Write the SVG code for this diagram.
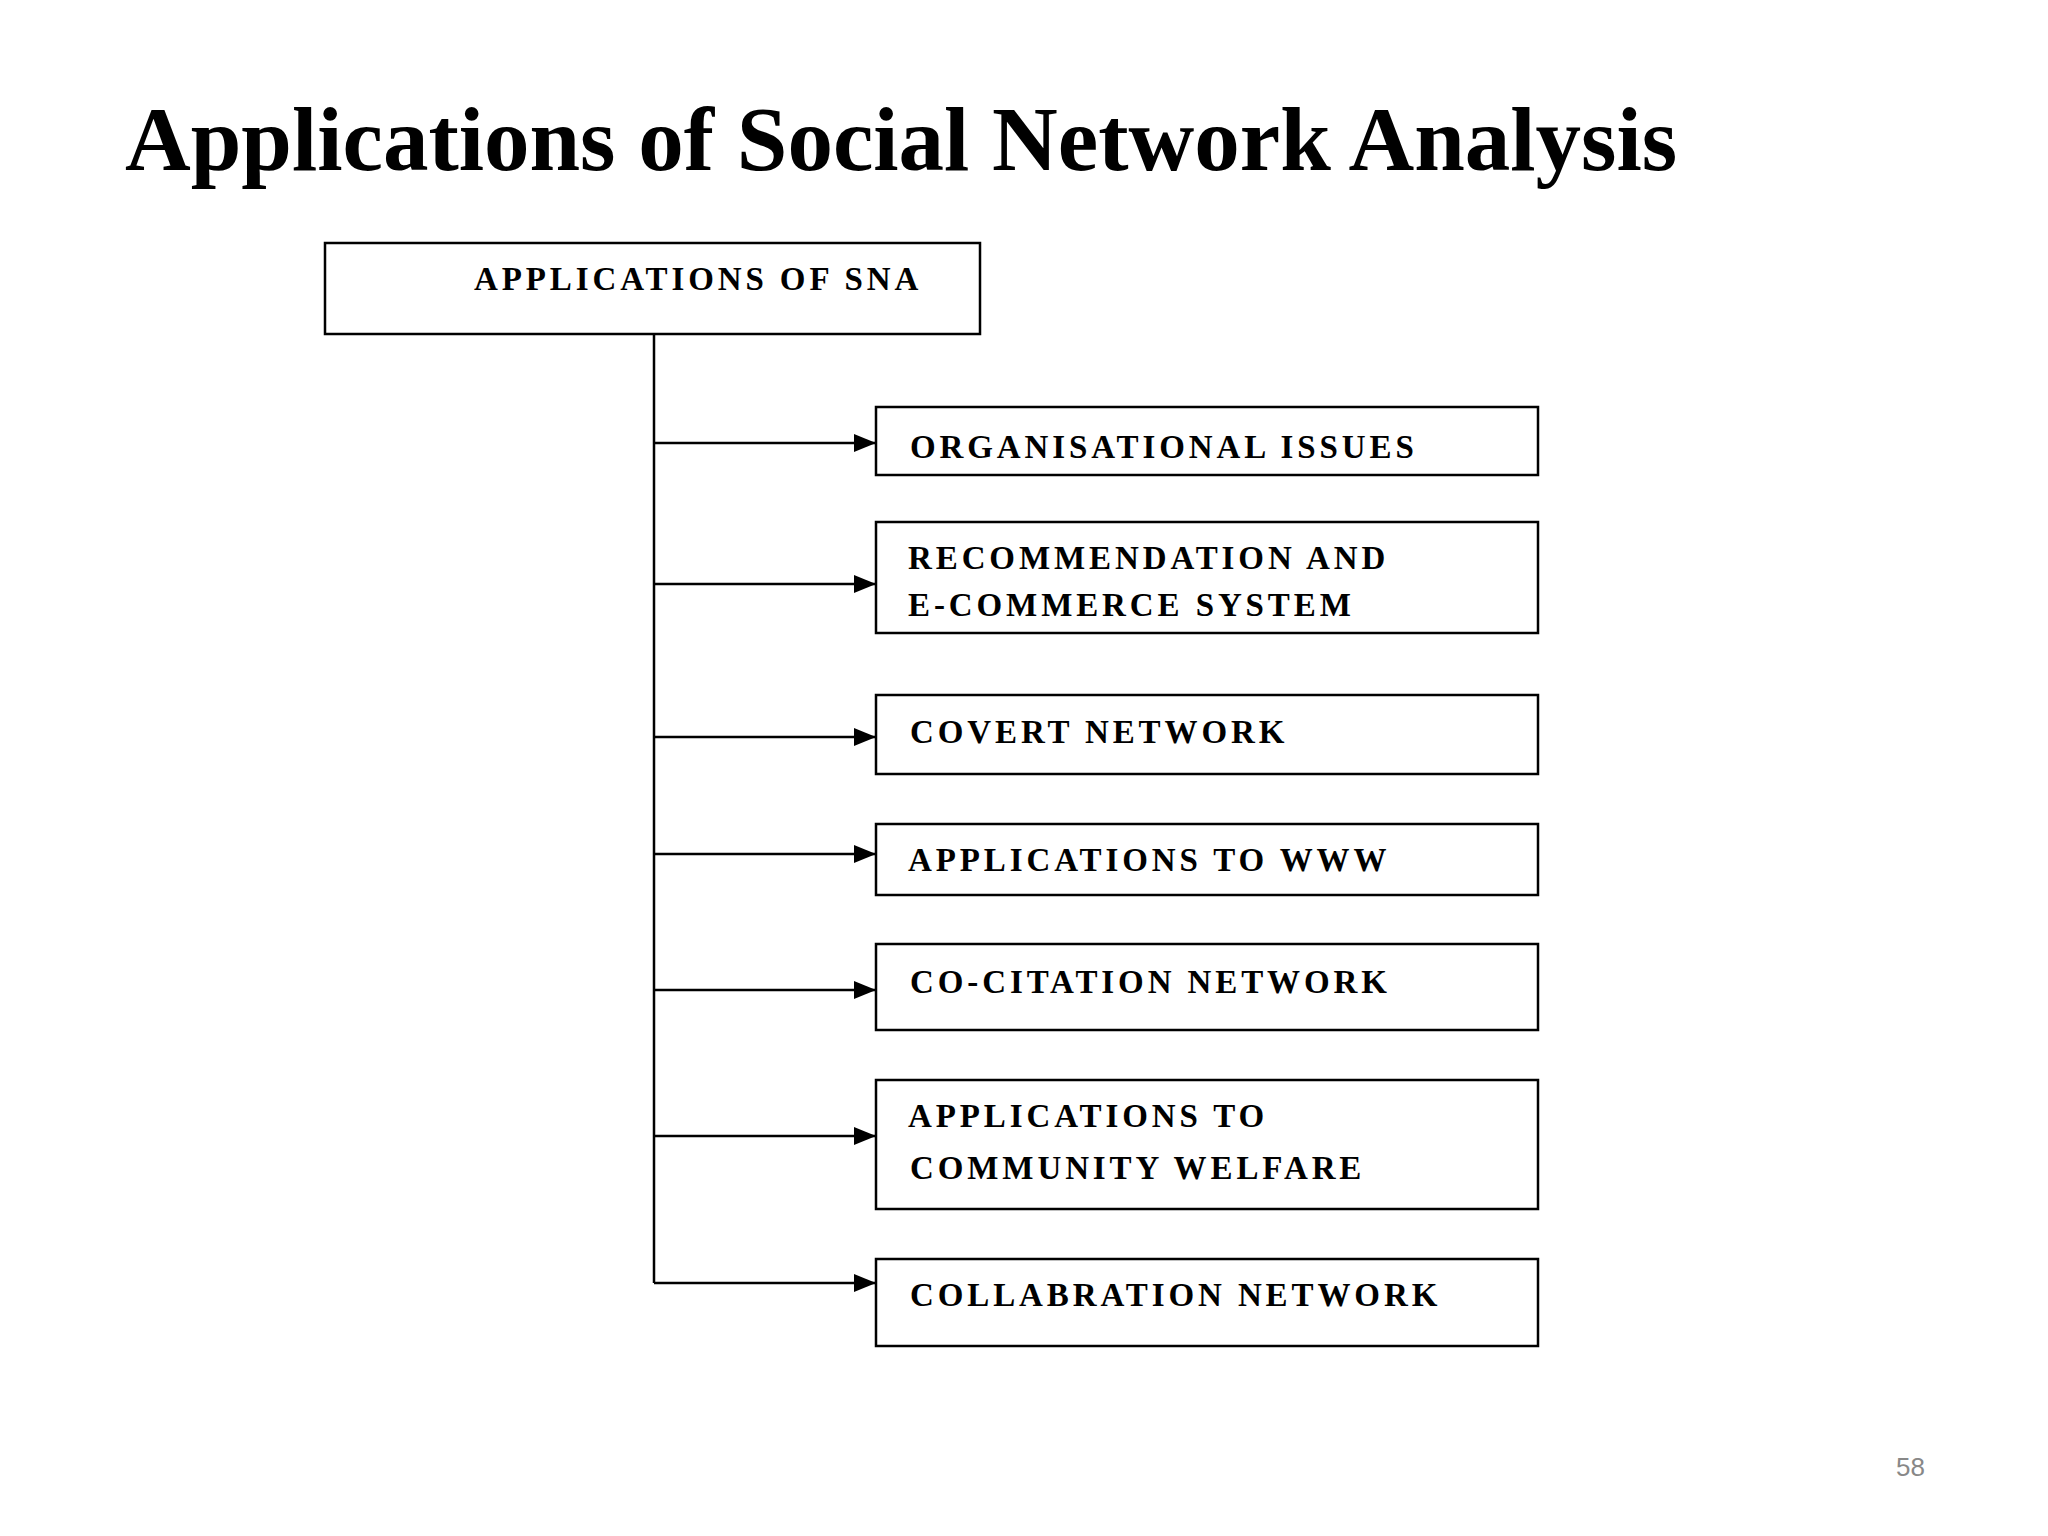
<svg xmlns="http://www.w3.org/2000/svg" width="2048" height="1536" viewBox="0 0 2048 1536">
<style>
.b{fill:#fff;stroke:#000;stroke-width:2.5}
.t{font-family:"Liberation Serif",serif;font-weight:bold;font-size:33px;letter-spacing:3.9px;fill:#000}
.c{stroke:#000;stroke-width:2.5;fill:none}
</style>
<defs><marker id="m" markerWidth="22" markerHeight="18" refX="22" refY="9" orient="auto" markerUnits="userSpaceOnUse"><path d="M0,0L22,9L0,18z" fill="#000"/></marker></defs>
<rect width="2048" height="1536" fill="#fff"/>
<text x="125" y="170" font-family="Liberation Serif,serif" font-weight="bold" font-size="91">Applications of Social Network Analysis</text>
<g id="root"><rect class="b" x="325" y="243" width="655" height="91"/><text class="t" x="474" y="290">APPLICATIONS OF SNA</text></g>
<g id="connectors">
<path class="c" d="M654 334V1283"/>
<path class="c" d="M654 443H876" marker-end="url(#m)"/>
<path class="c" d="M654 584H876" marker-end="url(#m)"/>
<path class="c" d="M654 737H876" marker-end="url(#m)"/>
<path class="c" d="M654 854H876" marker-end="url(#m)"/>
<path class="c" d="M654 990H876" marker-end="url(#m)"/>
<path class="c" d="M654 1136H876" marker-end="url(#m)"/>
<path class="c" d="M654 1283H876" marker-end="url(#m)"/>
</g>
<g id="n1"><rect class="b" x="876" y="407" width="662" height="68"/><text class="t" x="910" y="458">ORGANISATIONAL ISSUES</text></g>
<g id="n2"><rect class="b" x="876" y="522" width="662" height="111"/><text class="t" x="908" y="569">RECOMMENDATION AND</text><text class="t" x="908" y="616">E-COMMERCE SYSTEM</text></g>
<g id="n3"><rect class="b" x="876" y="695" width="662" height="79"/><text class="t" x="910" y="743">COVERT NETWORK</text></g>
<g id="n4"><rect class="b" x="876" y="824" width="662" height="71"/><text class="t" x="908" y="871">APPLICATIONS TO WWW</text></g>
<g id="n5"><rect class="b" x="876" y="944" width="662" height="86"/><text class="t" x="910" y="993">CO-CITATION NETWORK</text></g>
<g id="n6"><rect class="b" x="876" y="1080" width="662" height="129"/><text class="t" x="908" y="1127">APPLICATIONS TO</text><text class="t" x="910" y="1179">COMMUNITY WELFARE</text></g>
<g id="n7"><rect class="b" x="876" y="1259" width="662" height="87"/><text class="t" x="910" y="1306">COLLABRATION NETWORK</text></g>
<text x="1896" y="1476" font-family="Liberation Sans,sans-serif" font-size="26" fill="#888">58</text>
</svg>
